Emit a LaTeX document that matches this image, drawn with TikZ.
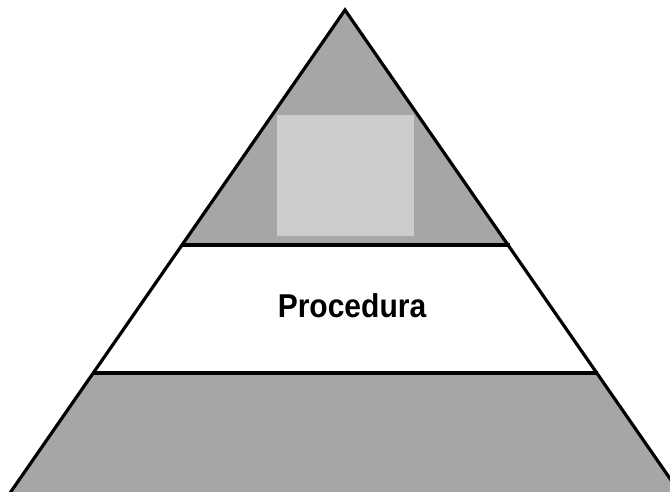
\documentclass[tikz,border=0pt]{standalone}
\usepackage{fontspec}
\setmainfont{Liberation Sans}
\definecolor{darkband}{RGB}{166,166,166}
\definecolor{lightbox}{RGB}{204,204,204}
\begin{document}
\begin{tikzpicture}[x=1pt,y=-1pt,
  outline/.style={line width=3.2pt,line join=miter},
  label/.style={font=\bfseries\fontsize{30}{30}\selectfont,inner sep=0pt,anchor=base,yscale=1.1}]
\useasboundingbox (0,0) rectangle (670,491);
\clip (0,0) rectangle (670,491);
% coordinates
\coordinate (apex) at (345,10);
\coordinate (bl) at (10,493);
\coordinate (br) at (680,493);
\coordinate (ml1) at (182,245);
\coordinate (mr1) at (510,245);
\coordinate (ml2) at (93,373);
\coordinate (mr2) at (598,373);
% fills
\fill[darkband] (apex) -- (bl) -- (br) -- cycle;
\fill[white] (ml1) -- (mr1) -- (mr2) -- (ml2) -- cycle;
\fill[lightbox] (277,115) rectangle (414,236);
% band lines
\draw[outline] (ml1) -- (mr1);
\draw[outline] (ml2) -- (mr2);
% outline
\draw[outline] (bl) -- (apex) -- (br);
\node[label] (proc) at (352,317) {Procedura};
\end{tikzpicture}
\end{document}
